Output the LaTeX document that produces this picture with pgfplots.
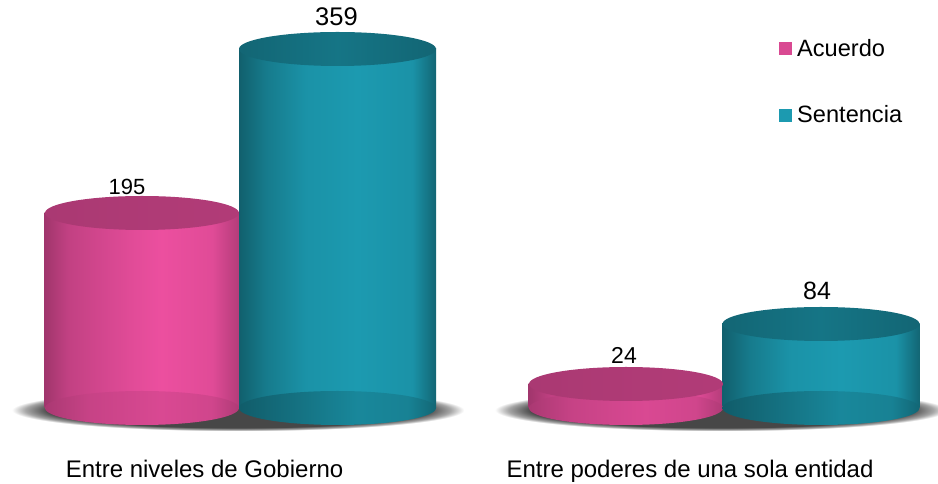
\documentclass[border=0pt]{standalone}
\usepackage{fontspec}
\setmainfont{Liberation Sans}
\usepackage{pgfplots}
\pgfplotsset{compat=1.18}

\definecolor{rosa}{HTML}{EC4F9F}
\definecolor{verde}{HTML}{1C9AB0}

% shadings: the path box maps on 25bp..75bp
\pgfdeclarehorizontalshading{rosabody}{100bp}{
  color(0bp)=(rosa!68!black); color(25bp)=(rosa!68!black);
  color(31bp)=(rosa!82!black); color(38bp)=(rosa!88!black);
  color(47bp)=(rosa!95!black); color(55bp)=(rosa);
  color(68bp)=(rosa!95!black); color(75bp)=(rosa!76!black); color(100bp)=(rosa!76!black)}
\pgfdeclarehorizontalshading{verdebody}{100bp}{
  color(0bp)=(verde!62!black); color(25bp)=(verde!62!black);
  color(32bp)=(verde!80!black); color(42bp)=(verde!95!black);
  color(55bp)=(verde); color(69bp)=(verde!95!black);
  color(75bp)=(verde!66!black); color(100bp)=(verde!66!black)}
\pgfdeclarehorizontalshading{rosatop}{100bp}{
  color(0bp)=(rosa!72!black); color(25bp)=(rosa!72!black);
  color(50bp)=(rosa!74!black); color(75bp)=(rosa!75!black); color(100bp)=(rosa!75!black)}
\pgfdeclarehorizontalshading{verdetop}{100bp}{
  color(0bp)=(verde!66!black); color(25bp)=(verde!66!black);
  color(50bp)=(verde!76!black); color(75bp)=(verde!66!black); color(100bp)=(verde!66!black)}
\pgfdeclarehorizontalshading{rosafloor}{100bp}{
  color(0bp)=(rosa!72!black); color(25bp)=(rosa!72!black);
  color(36bp)=(rosa!84!black); color(55bp)=(rosa!92!black);
  color(68bp)=(rosa!88!black); color(75bp)=(rosa!74!black); color(100bp)=(rosa!74!black)}
\pgfdeclarehorizontalshading{verdefloor}{100bp}{
  color(0bp)=(verde!58!black); color(25bp)=(verde!60!black);
  color(38bp)=(verde!72!black); color(55bp)=(verde!88!black);
  color(68bp)=(verde!84!black); color(75bp)=(verde!66!black); color(100bp)=(verde!66!black)}
\pgfdeclareradialshading{sombrashade}{\pgfpoint{0bp}{0bp}}{
  color(0bp)=(black!72); color(21bp)=(black!72);
  color(23.5bp)=(black!35); color(25bp)=(white); color(50bp)=(white)}

\pgfdeclareplotmark{rosatop}{\path[draw=none,shade,shading=rosatop] (0pt,0pt) ellipse [x radius=97pt,y radius=17pt];}
\pgfdeclareplotmark{verdetop}{\path[draw=none,shade,shading=verdetop] (0pt,0pt) ellipse [x radius=98.5pt,y radius=17pt];}
\pgfdeclareplotmark{rosafloor}{\path[draw=none,shade,shading=rosafloor] (0pt,0pt) ellipse [x radius=97pt,y radius=17pt];}
\pgfdeclareplotmark{verdefloor}{\path[draw=none,shade,shading=verdefloor] (0pt,0pt) ellipse [x radius=98.5pt,y radius=17pt];}

\newcommand{\px}[1]{\fontsize{#1}{#1}\selectfont}

\begin{document}
\begin{tikzpicture}
\useasboundingbox (0pt,0pt) rectangle (938pt,484pt);
\begin{axis}[
    scale only axis,
    width=938pt, height=484pt,
    xmin=0, xmax=938,
    ymin=-76, ymax=408,
    axis line style={draw=none},
    major tick length=0pt,
    ytick=\empty,
    xtick={204.5,690},
    xticklabels={Entre niveles de Gobierno,Entre poderes de una sola entidad},
    xticklabel style={font=\px{24}, anchor=base, yshift=6pt},
    legend style={
        at={(axis cs:779,371)}, anchor=north west,
        draw=none, fill=none, font=\px{23.6},
        row sep=44pt, inner sep=0pt,
        cells={anchor=west},
    },
    rosacyl/.style={ybar, bar shift=0pt, bar width=195, draw=none, shade, shading=rosabody},
    verdecyl/.style={ybar, bar shift=0pt, bar width=197, draw=none, shade, shading=verdebody},
    sombra/.style={draw=none, mark=none, shade, shading=sombrashade, forget plot},
]

% marks are painted after all paths, so the shadows have to be paths
\addplot[sombra] coordinates {(12,-23)(12,19)(464,19)(464,-23)} -- cycle;
\addplot[sombra] coordinates {(495,-23)(495,19)(947,19)(947,-23)} -- cycle;

% Acuerdo
\addplot[rosacyl,
    legend image code/.code={\path[shade=false,fill=rosa!92!black] (0pt,-6.5pt) rectangle (13pt,6.5pt); \path (16pt,0pt);}]
    coordinates {(142,195)};
\addlegendentry{Acuerdo}
\addplot[rosacyl, forget plot] coordinates {(626,24)};
\addplot[only marks, mark=rosafloor, forget plot] coordinates {(142,0)(626,0)};
\addplot[only marks, mark=rosatop, forget plot] coordinates {(142,195)(626,24)};

% Sentencia
\addplot[verdecyl,
    legend image code/.code={\path[shade=false,fill=verde] (0pt,-6.5pt) rectangle (13pt,6.5pt); \path (16pt,0pt);}]
    coordinates {(337.5,359)};
\addlegendentry{Sentencia}
\addplot[verdecyl, forget plot] coordinates {(821,84)};
\addplot[only marks, mark=verdefloor, forget plot] coordinates {(337.5,0)(821,0)};
\addplot[only marks, mark=verdetop, forget plot] coordinates {(337.5,359)(821,84)};

\node[font=\px{22}, anchor=base] at (axis cs:127,213) {195};
\node[font=\px{25.5}, anchor=base] at (axis cs:336.5,382) {359};
\node[font=\px{23}, anchor=base] at (axis cs:624,44) {24};
\node[font=\px{25}, anchor=base] at (axis cs:817,108) {84};
\end{axis}
\end{tikzpicture}
\end{document}
